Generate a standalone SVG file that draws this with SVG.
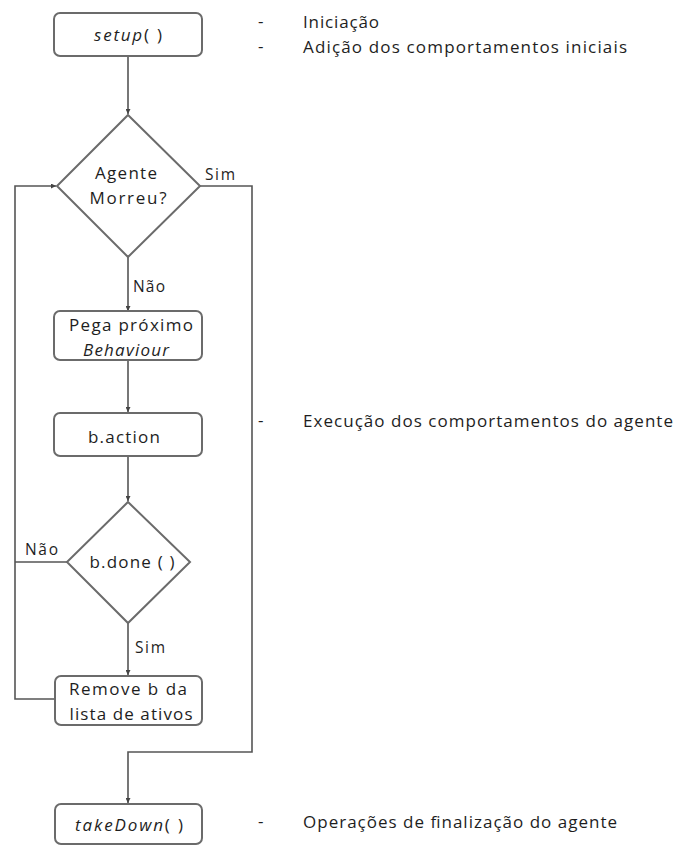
<svg xmlns="http://www.w3.org/2000/svg" width="688" height="846" viewBox="0 0 688 846">
<style>
.box{fill:#fff;stroke:#6b6b6b;stroke-width:2}
.dia{fill:#fff;stroke:#6b6b6b;stroke-width:2}
.ln{fill:none;stroke:#555;stroke-width:1.6}
text{font-family:"Open Sans","Liberation Sans",sans-serif;fill:#1e1e1e;font-size:17px}
.s{font-size:15.5px}
.n{text-anchor:middle}
.it{font-style:italic}
</style>
<defs>
<marker id="ah" viewBox="0 0 6 6" refX="6" refY="3" markerWidth="5" markerHeight="5" orient="auto" markerUnits="userSpaceOnUse">
<path d="M0,0 L6,3 L0,6 z" fill="#444"/>
</marker>
</defs>
<rect width="688" height="846" fill="#fff"/>
<g id="connectors">
<path class="ln" d="M128,56 V114" marker-end="url(#ah)"/>
<path class="ln" d="M128,257 V311" marker-end="url(#ah)"/>
<path class="ln" d="M128,360 V412" marker-end="url(#ah)"/>
<path class="ln" d="M128,456 V501" marker-end="url(#ah)"/>
<path class="ln" d="M128,623 V675" marker-end="url(#ah)"/>
<path class="ln" d="M200,186 H252 V752 H128 V803" marker-end="url(#ah)"/>
<path class="ln" d="M55,699 H15 V186 H56" marker-end="url(#ah)"/>
<path class="ln" d="M67,562 H15"/>
<text class="s" x="205" y="180" textLength="30">Sim</text>
<text class="s" x="133" y="292" textLength="32">Não</text>
<text class="s" x="25" y="555" textLength="33">Não</text>
<text class="s" x="135" y="653" textLength="30">Sim</text>
</g>
<g id="setup">
<rect class="box" x="54" y="13" width="148" height="43" rx="6"/>
<text class="n" x="128" y="41" textLength="68"><tspan class="it">setup</tspan>( )</text>
</g>
<g id="agente-morreu">
<polygon class="dia" points="128,115 200,186 128,257 57,186"/>
<text class="n" x="126" y="179" textLength="62">Agente</text>
<text class="n" x="128" y="204" textLength="77">Morreu?</text>
</g>
<g id="pega-proximo">
<rect class="box" x="54" y="311" width="148" height="49" rx="6"/>
<text class="n" x="131" y="331" textLength="124">Pega próximo</text>
<text class="n it" x="126" y="356" textLength="86">Behaviour</text>
</g>
<g id="b-action">
<rect class="box" x="54" y="413" width="148" height="43" rx="6"/>
<text class="n" x="124" y="443" textLength="72">b.action</text>
</g>
<g id="b-done">
<polygon class="dia" points="128,502 190,562 128,623 67,562"/>
<text class="n" x="132" y="568" textLength="85">b.done ( )</text>
</g>
<g id="remove-b">
<rect class="box" x="55" y="676" width="147" height="49" rx="6"/>
<text class="n" x="128" y="695" textLength="118">Remove b da</text>
<text class="n" x="131" y="720" textLength="123">lista de ativos</text>
</g>
<g id="takedown">
<rect class="box" x="55" y="804" width="147" height="40" rx="6"/>
<text class="n" x="129" y="831" textLength="108"><tspan class="it">takeDown</tspan>( )</text>
</g>
<g id="notes">
<text x="258" y="27">-</text>
<text x="303" y="28" textLength="76">Iniciação</text>
<text x="258" y="52">-</text>
<text x="303" y="53" textLength="324">Adição dos comportamentos iniciais</text>
<text x="258" y="426">-</text>
<text x="303" y="427" textLength="370">Execução dos comportamentos do agente</text>
<text x="258" y="827">-</text>
<text x="303" y="828" textLength="314">Operações de finalização do agente</text>
</g>
</svg>
